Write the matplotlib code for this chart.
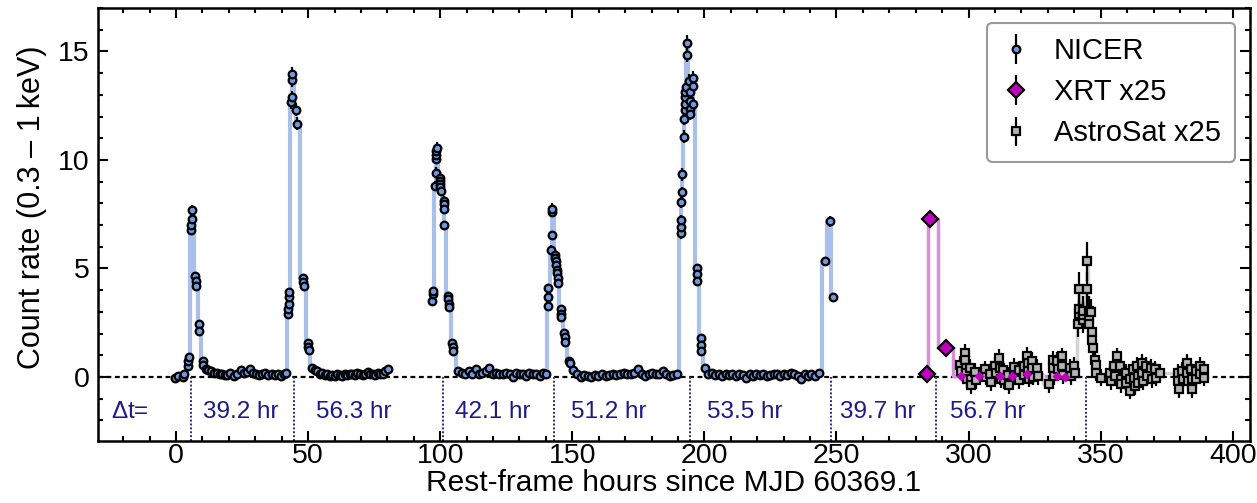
import numpy as np
import matplotlib
matplotlib.use("Agg")
import matplotlib.pyplot as plt
from matplotlib.ticker import MultipleLocator

plt.rcParams['font.family'] = ['Liberation Sans', 'DejaVu Sans']
plt.rcParams['mathtext.fontset'] = 'custom'
plt.rcParams['mathtext.rm'] = 'Liberation Sans'

# ---------------- NICER 0.3-1 keV count rate ----------------
nicer_t = [
    -0.4, 0.9, 2.6, 3.2,
    4.5, 4.65, 4.8, 5.75, 5.85, 5.95, 6.05, 7.3, 7.45, 7.6, 8.7, 8.85, 10.2, 10.35,
    11.2, 12.2, 13.1, 14.3, 15.6, 16.5, 17.5, 18.4, 19.4, 20.6, 21.9, 23.2, 24.5, 25.7,
    26.8, 28.0, 29.2, 30.4, 31.6, 32.7, 33.8, 35.0, 36.2, 37.4, 38.6, 39.8, 40.9, 41.8,
    42.4, 42.5, 42.6, 42.7, 42.8, 43.7, 43.8, 43.9, 44.0, 45.5, 45.65,
    48.1, 48.25, 48.4, 50.0, 50.15, 50.3, 51.4,
    52.6, 53.5, 54.5, 55.4, 56.4, 57.3, 58.3, 59.2, 60.2, 61.1, 62.1, 63.0, 64.0, 64.9,
    65.9, 66.8, 67.8, 68.7, 69.7, 70.6, 71.6, 72.5, 73.5, 74.4, 75.4, 76.3, 77.3, 78.2,
    79.2, 80.2,
    97.0, 97.15, 97.3, 98.2, 98.3, 98.4, 98.5, 98.6, 98.7, 99.8, 99.9, 100.0, 100.1, 100.2,
    101.3, 101.4, 101.5, 101.6, 103.0, 103.1, 103.2, 103.3, 104.6, 104.7, 104.8,
    106.9, 108.3, 109.5, 110.8, 112.2, 113.5, 114.7, 116.0, 117.4, 118.6, 120.0, 121.2,
    122.4, 123.7, 125.0, 126.3, 127.5, 128.8, 130.1, 131.3, 132.6, 133.8, 135.1, 136.4,
    137.6, 138.9, 140.0,
    140.7, 140.8, 140.9, 142.1, 142.2, 142.3, 142.4, 143.5, 143.6, 143.7, 143.8,
    144.3, 144.4, 144.5, 144.6, 145.6, 145.7, 145.8, 147.0, 147.1, 147.2, 148.9, 149.0,
    150.3,
    151.8, 153.2, 154.5, 155.9, 157.2, 158.6, 159.9, 161.3, 162.6, 164.0, 165.4, 166.7,
    168.1, 169.4, 170.8, 172.1, 173.5, 174.8, 176.2, 177.5, 178.9, 180.2, 181.6, 182.9,
    184.3, 185.6, 187.0, 188.3, 189.6,
    191.0, 191.1, 191.2, 191.3, 191.4, 191.5, 192.3, 192.4, 192.5, 192.6, 192.7, 192.8,
    192.9, 193.4, 193.5, 194.3, 194.4, 194.5, 194.6, 194.7, 195.6, 195.7, 195.8,
    197.1, 197.2, 197.3, 198.6, 198.7, 198.8, 200.1,
    201.5, 202.8, 204.1, 205.4, 206.7, 208.0, 209.3, 210.6, 211.9, 213.2, 214.5, 215.8,
    217.1, 218.4, 219.7, 221.0, 222.3, 223.6, 224.9, 226.2, 227.5, 228.8, 230.1, 231.4,
    232.7, 234.0, 235.3, 236.6, 237.9, 239.2, 240.5, 241.8, 243.3,
    245.5, 247.5, 248.7,
]
nicer_rate = [
    -0.03, 0.05, -0.02, 0.13,
    0.50, 0.72, 0.91, 6.76, 6.99, 7.29, 7.67, 4.65, 4.43, 4.20, 2.46, 2.13, 0.72, 0.57,
    0.38, 0.30, 0.27, 0.20, 0.20, 0.15, 0.12, 0.08, 0.09, 0.20, 0.05, 0.15, 0.30, 0.20,
    0.25, 0.36, 0.20, 0.12, 0.09, 0.15, 0.20, 0.09, 0.15, 0.09, 0.12, 0.05, 0.12, 0.20,
    2.91, 3.14, 3.37, 3.67, 3.90, 12.66, 12.88, 13.67, 13.94, 12.31, 11.67,
    4.57, 4.38, 4.17, 1.55, 1.40, 1.26, 0.42,
    0.30, 0.27, 0.15, 0.20, 0.09, 0.12, 0.05, 0.09, 0.05, 0.12, 0.09, 0.05, 0.12, 0.09,
    0.12, 0.15, 0.09, 0.20, 0.12, 0.09, 0.15, 0.23, 0.15, 0.12, 0.09, 0.20, 0.15, 0.12,
    0.27, 0.35,
    3.52, 3.82, 3.97, 8.80, 9.41, 10.05, 10.24, 10.39, 10.54, 9.18, 9.03, 8.88, 8.73, 8.58,
    8.12, 7.97, 7.75, 6.99, 3.74, 3.59, 3.37, 3.22, 1.55, 1.40, 1.18,
    0.27, 0.20, 0.12, 0.27, 0.12, 0.35, 0.15, 0.20, 0.27, 0.42, 0.12, 0.20,
    0.15, 0.12, 0.20, 0.12, 0.02, 0.20, 0.15, 0.12, 0.05, 0.20, 0.12, 0.15,
    0.05, 0.20, 0.12,
    3.29, 3.67, 4.09, 5.86, 6.54, 7.60, 7.75, 5.63, 5.48, 5.33, 5.18,
    4.95, 4.80, 4.58, 4.35, 3.14, 2.91, 2.76, 2.01, 1.86, 1.63, 0.73, 0.65,
    0.30,
    0.12, 0.00, 0.08, 0.05, -0.02, 0.08, 0.05, 0.12, 0.05, 0.08, 0.15, 0.08,
    0.12, 0.20, 0.15, 0.12, 0.20, 0.35, 0.12, 0.05, 0.12, 0.20, 0.15, 0.12,
    0.27, 0.12, 0.05, 0.08, 0.12,
    6.62, 6.92, 7.22, 8.05, 8.50, 9.33, 11.07, 11.90, 12.28, 12.58, 12.88, 13.11,
    13.34, 14.85, 15.37, 13.64, 13.11, 12.73, 12.35, 12.13, 13.79, 13.41, 12.58,
    5.03, 4.73, 4.43, 1.78, 1.48, 1.18, 0.42,
    0.12, 0.20, 0.08, 0.12, 0.05, 0.12, 0.08, 0.15, 0.05, 0.12, 0.08, -0.05,
    0.12, 0.05, 0.15, 0.08, 0.12, 0.05, 0.08, 0.12, 0.15, 0.05, 0.12, 0.08,
    0.20, 0.12, 0.05, -0.08, 0.12, 0.05, 0.15, 0.05, 0.20,
    5.33, 7.17, 3.70,
]
nicer_err = [
    0.05, 0.05, 0.05, 0.05,
    0.10, 0.10, 0.10, 0.20, 0.20, 0.22, 0.25, 0.15, 0.15, 0.15, 0.12, 0.12, 0.08, 0.08,
] + [0.05] * 28 + [
    0.15, 0.15, 0.15, 0.15, 0.15, 0.30, 0.30, 0.30, 0.35, 0.30, 0.30,
    0.15, 0.15, 0.15, 0.10, 0.10, 0.10, 0.08,
] + [0.05] * 30 + [
    0.15, 0.15, 0.15, 0.25, 0.25, 0.25, 0.25, 0.25, 0.28, 0.25, 0.25, 0.25, 0.25, 0.25,
    0.20, 0.20, 0.20, 0.20, 0.15, 0.15, 0.15, 0.15, 0.10, 0.10, 0.10,
] + [0.05] * 27 + [
    0.15, 0.15, 0.15, 0.20, 0.20, 0.22, 0.25, 0.15, 0.15, 0.15, 0.15,
    0.15, 0.15, 0.15, 0.15, 0.12, 0.12, 0.12, 0.10, 0.10, 0.10, 0.08, 0.08,
    0.06,
] + [0.05] * 29 + [
    0.25, 0.25, 0.25, 0.25, 0.25, 0.28, 0.30, 0.30, 0.30, 0.30, 0.30, 0.30,
    0.30, 0.35, 0.38, 0.30, 0.30, 0.30, 0.30, 0.30, 0.30, 0.30, 0.30,
    0.15, 0.15, 0.15, 0.10, 0.10, 0.10, 0.08,
] + [0.05] * 33 + [0.20, 0.25, 0.15]

# ---------------- Swift/XRT (scaled x25) ----------------
xrt_t = [284.1, 285.3, 291.3]
xrt_rate = [0.12, 7.26, 1.33]
xrt_err = [0.08, 0.35, 0.10]
xrt_late_t = [297.0, 303.9, 311.9, 316.3, 322.0, 333.3, 336.5]
xrt_late_rate = [0.05, 0.05, 0.05, 0.05, 0.12, 0.05, 0.00]

# ---------------- AstroSat (scaled x25) ----------------
astrosat_t = [
    296.8, 297.2, 298.5, 298.7, 298.9, 299.1, 299.3, 300.6, 300.8, 301.0, 302.5, 302.8,
    306.2, 306.5, 308.1, 308.4, 310.0, 310.3, 311.6, 311.9, 312.2, 313.2, 313.5,
    315.1, 315.4, 317.0, 317.3, 318.9, 319.2, 320.8, 321.1, 322.2, 322.4, 322.6, 322.8,
    323.9, 324.1, 324.3, 325.8, 326.1, 330.4, 331.9, 332.1, 332.3, 333.6, 333.9,
    335.3, 335.5, 335.7, 338.4, 338.7, 340.0, 340.3,
    341.6, 341.7, 341.8, 341.9, 343.2, 343.3, 343.4, 344.9, 345.0, 345.5, 345.6, 345.7,
    346.5, 346.7, 346.9, 347.1, 347.9, 348.1, 348.3, 350.0,
    353.6, 353.9, 355.2, 355.4, 356.3, 357.4, 357.6, 357.8, 359.4, 359.6, 361.0, 361.2,
    362.4, 362.6, 362.8, 363.9, 364.1, 364.3, 365.6, 365.8, 366.0, 367.3, 367.5,
    369.1, 369.3, 370.7, 370.9, 372.5,
    379.1, 379.3, 379.5, 380.8, 381.0, 382.6, 382.8, 383.0, 384.2, 384.4, 384.6,
    385.9, 386.1, 387.5, 387.7, 389.0, 389.2,
]
astrosat_rate = [
    0.57, 0.27, 1.10, 0.80, 0.42, 0.17, -0.11, 0.42, -0.08, -0.38, 0.23, -0.14,
    0.35, 0.02, 0.12, -0.23, 0.50, 0.17, 0.88, 0.42, -0.11, 0.32, -0.14,
    0.08, -0.38, 0.47, 0.05, 0.32, -0.14, 0.50, 0.11, 0.98, 0.65, 0.27, -0.08,
    0.73, 0.41, 0.02, 0.42, 0.05, -0.33, 0.80, 0.42, 0.05, 0.73, 0.35,
    0.95, 0.50, 0.08, 0.42, 0.05, 0.50, 0.20,
    2.46, 2.91, 3.14, 4.05, 2.61, 2.84, 3.06, 4.05, 5.33, 3.06, 2.76, 2.46,
    2.99, 2.08, 1.71, 1.33, 0.80, 0.57, 0.20, -0.03,
    0.20, -0.18, 0.50, 0.05, 0.95, 0.50, -0.11, -0.33, 0.20, -0.26, -0.11, -0.63,
    0.35, -0.03, -0.41, 0.50, 0.05, -0.26, 0.65, 0.20, -0.18, 0.50, 0.05,
    0.42, -0.11, 0.35, -0.03, 0.20,
    0.20, -0.18, -0.56, 0.27, -0.11, 0.65, 0.20, -0.18, 0.35, -0.11, -0.56,
    0.27, -0.11, 0.50, 0.12, 0.35, -0.03,
]
astrosat_err = [0.40] * 53 + [
    0.60, 0.60, 0.65, 0.80, 0.60, 0.60, 0.65, 0.80, 0.90, 0.65, 0.60, 0.60,
    0.60, 0.50, 0.50, 0.45, 0.40, 0.40, 0.40, 0.40,
] + [0.40] * 45

# ---------------- separations between successive flare peaks ----------------
dt_hours = [39.2, 56.3, 42.1, 51.2, 53.5, 39.7, 56.7]
first_peak_hr = 5.6

assert len(nicer_t) == len(nicer_rate) == len(nicer_err)
assert len(astrosat_t) == len(astrosat_rate) == len(astrosat_err)


def with_gaps(t, y, max_gap):
    """Insert NaN where consecutive samples are far apart so the step line breaks."""
    t = np.asarray(t, float)
    y = np.asarray(y, float)
    out_t, out_y = [t[0]], [y[0]]
    for i in range(1, len(t)):
        if t[i] - t[i - 1] > max_gap:
            out_t.append(np.nan)
            out_y.append(np.nan)
        out_t.append(t[i])
        out_y.append(y[i])
    return np.array(out_t), np.array(out_y)


fig = plt.figure(figsize=(12.57, 5.03), dpi=100)
ax = fig.add_axes([0.078, 0.1233, 0.9164, 0.8608])

xmin, xmax = -29.5, 406.5
ymin, ymax = -2.95, 17.0

# baseline
ax.axhline(0, color='k', lw=1.6, ls=(0, (2.2, 1.6)), zorder=1)

# step light curves
nt, nr = with_gaps(nicer_t, nicer_rate, 8.0)
ax.plot(nt, nr, drawstyle='steps-mid', color='#a9c1ea', lw=3.0, zorder=2)
ax.plot(xrt_t + xrt_late_t, xrt_rate + xrt_late_rate, drawstyle='steps-mid',
        color='#d78fd7', lw=2.5, zorder=2)
ax.plot(astrosat_t, astrosat_rate, drawstyle='steps-mid', color='#d4d4d4', lw=2.5, zorder=2)

# data points
ax.errorbar(nicer_t, nicer_rate, yerr=nicer_err, fmt='o', ms=5.5, mfc='#6f9ae0',
            mec='k', mew=1.6, ecolor='k', elinewidth=1.6, capsize=0, zorder=4,
            label='NICER')
ax.errorbar(xrt_t, xrt_rate, yerr=xrt_err, fmt='D', ms=8, mfc='#c000c0',
            mec='k', mew=1.6, ecolor='k', elinewidth=1.6, capsize=0, zorder=5,
            label='XRT x25')
ax.errorbar(astrosat_t, astrosat_rate, yerr=astrosat_err, fmt='s', ms=5.5, mfc='#b4b4b4',
            mec='k', mew=1.6, ecolor='k', elinewidth=1.6, capsize=0, zorder=3,
            label='AstroSat x25')
ax.plot(xrt_late_t, xrt_late_rate, 'D', ms=5, color='#c000c0', mec='none', zorder=6)

# peak-separation markers
peaks = first_peak_hr + np.concatenate([[0.0], np.cumsum(dt_hours)])
ax.vlines(peaks, ymin, 0, colors='#2a2a80', linestyles=(0, (1, 1)), lw=1.4, zorder=1)
label_x = [24.5, 67.2, 120.0, 163.8, 215.2, 265.8, 307.2]
text_y = -1.6
ax.text(-17.4, text_y, r'$\Delta$t=', color='#1a1a8a', fontsize=17.5,
        ha='center', va='center')
for xpos, dt in zip(label_x, dt_hours):
    ax.text(xpos, text_y, f'{dt:.1f} hr', color='#1a1a8a', fontsize=17.5,
            ha='center', va='center')

ax.set_xlim(xmin, xmax)
ax.set_ylim(ymin, ymax)
ax.xaxis.set_major_locator(MultipleLocator(50))
ax.xaxis.set_minor_locator(MultipleLocator(10))
ax.yaxis.set_major_locator(MultipleLocator(5))
ax.yaxis.set_minor_locator(MultipleLocator(1))
ax.tick_params(which='both', direction='in', top=True, right=True, width=1.5,
               labelsize=20.5)
ax.tick_params(which='major', length=7)
ax.tick_params(axis='y', which='major', pad=6)
ax.tick_params(axis='x', which='major', pad=1.5)
ax.tick_params(which='minor', length=3.5)
for sp in ax.spines.values():
    sp.set_linewidth(1.8)

ax.set_xlabel('Rest-frame hours since MJD 60369.1', fontsize=21.5, labelpad=0)
ax.set_ylabel('Count rate (0.3 \u2013 1\u2009keV)', fontsize=22, labelpad=8)
ax.yaxis.label.set_y(0.539)

leg = ax.legend(loc='upper right', fontsize=21, frameon=True, fancybox=True,
                edgecolor='#9a9a9a', framealpha=1.0, handlelength=1.0,
                handletextpad=0.8, borderpad=0.5, labelspacing=0.45,
                borderaxespad=0.5)
leg.get_frame().set_linewidth(1.5)

fig.savefig('out.png', dpi=100)
